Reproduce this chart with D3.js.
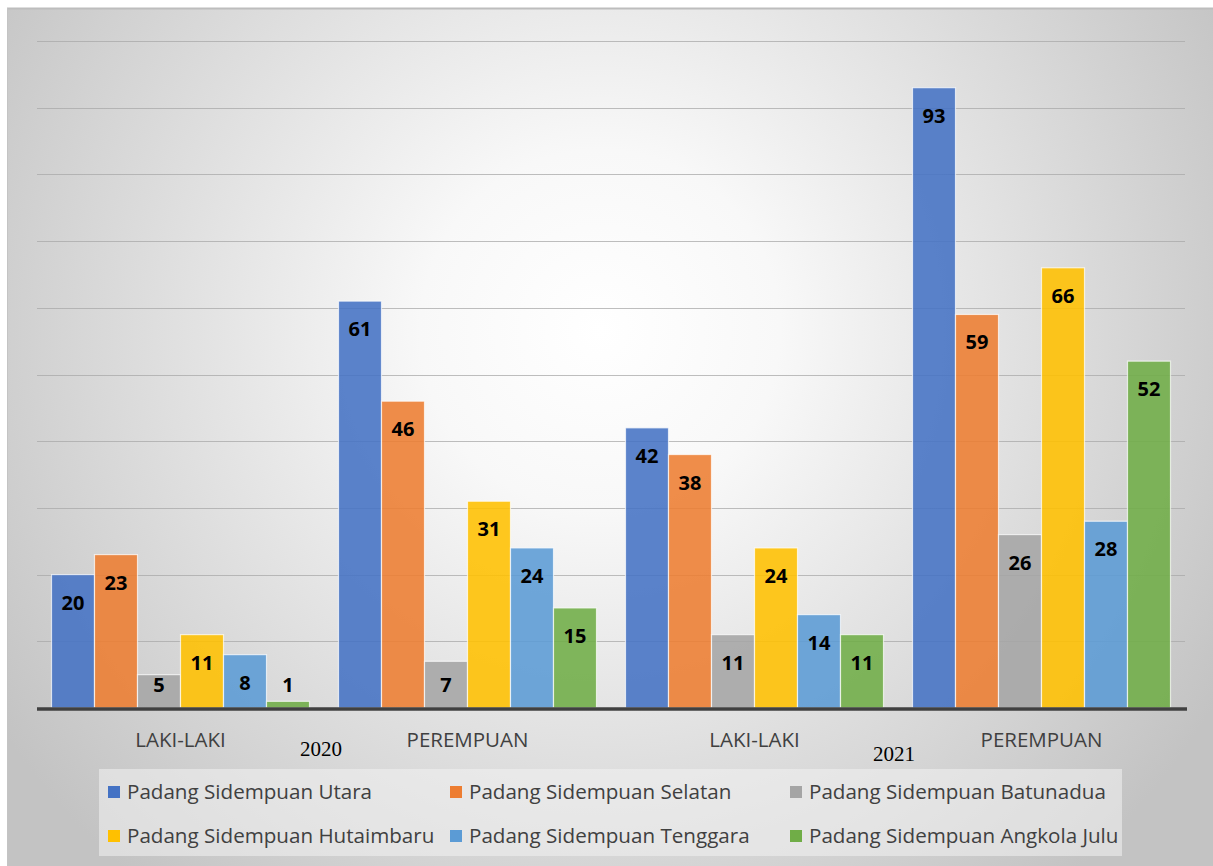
<!DOCTYPE html>
<html>
<head>
  <meta charset="utf-8" />
  <title>Padang Sidempuan 2020-2021</title>
  <style>
    body { margin: 0; background: #fff; }
    svg { display: block; }
    .lbl { font-family: "Open Sans", sans-serif; font-weight: bold; font-size: 20px; fill: #000; }
    .cat { font-family: "Open Sans", sans-serif; font-size: 20.5px; fill: #404040; }
    .year { font-family: "Liberation Serif", serif; font-size: 21px; fill: #000; }
    .leg { font-family: "Open Sans", sans-serif; font-size: 20.6px; fill: #404040; }
  </style>
</head>
<body>
  <svg id="svg"></svg>
  <script src="https://d3js.org/d3.v7.min.js"></script>
  <script>
    const width = 1213
    const height = 866

    const categories = ['LAKI-LAKI', 'PEREMPUAN', 'LAKI-LAKI', 'PEREMPUAN']
    const years = ['2020', '2021']
    const series = [
      'Padang Sidempuan Utara',
      'Padang Sidempuan Selatan',
      'Padang Sidempuan Batunadua',
      'Padang Sidempuan Hutaimbaru',
      'Padang Sidempuan Tenggara',
      'Padang Sidempuan Angkola Julu'
    ]
    const utara = [20, 61, 42, 93]
    const selatan = [23, 46, 38, 59]
    const batunadua = [5, 7, 11, 26]
    const hutaimbaru = [11, 31, 24, 66]
    const tenggara = [8, 24, 14, 28]
    const angkolaJulu = [1, 15, 11, 52]
    const yTicks = [0, 10, 20, 30, 40, 50, 60, 70, 80, 90, 100]

    const values = [utara, selatan, batunadua, hutaimbaru, tenggara, angkolaJulu]
    const colors = ['#4472c4', '#ed7d31', '#a5a5a5', '#ffc000', '#5b9bd5', '#70ad47']

    const svg = d3.select('#svg').attr('width', width).attr('height', height)

    // background panel with radial shading
    const defs = svg.append('defs')
    const grad = defs.append('radialGradient')
      .attr('id', 'bg')
      .attr('gradientUnits', 'userSpaceOnUse')
      .attr('cx', 600).attr('cy', 330).attr('r', 720)
    grad.append('stop').attr('offset', '0%').attr('stop-color', '#ffffff')
    grad.append('stop').attr('offset', '25%').attr('stop-color', '#f8f8f8')
    grad.append('stop').attr('offset', '100%').attr('stop-color', '#c3c3c3')

    svg.append('rect')
      .attr('x', 7).attr('y', 8)
      .attr('width', width - 7).attr('height', height - 8)
      .attr('fill', 'url(#bg)')
    svg.append('line')
      .attr('x1', 7).attr('x2', width).attr('y1', 8.5).attr('y2', 8.5)
      .attr('stroke', '#bdbdbd').attr('stroke-width', 2)
    svg.append('line')
      .attr('x1', 7.5).attr('x2', 7.5).attr('y1', 8).attr('y2', height)
      .attr('stroke', '#c4c4c4').attr('stroke-width', 1)

    const plot = { left: 37, right: 1185, top: 41, bottom: 708 }

    const x0 = d3.scaleBand()
      .domain(d3.range(categories.length))
      .range([plot.left, plot.right])

    const x1 = d3.scaleBand()
      .domain(d3.range(series.length))
      .range([14.5, x0.bandwidth() - 14.5])

    const y = d3.scaleLinear()
      .domain([0, 100])
      .range([plot.bottom, plot.top])

    // gridlines
    svg.append('g')
      .selectAll('line')
      .data(yTicks.slice(1))
      .join('line')
      .attr('x1', plot.left).attr('x2', plot.right)
      .attr('y1', d => Math.round(y(d)) + 0.5)
      .attr('y2', d => Math.round(y(d)) + 0.5)
      .attr('stroke', '#a8a8a8')
      .attr('stroke-opacity', 0.75)

    // bars
    const groups = svg.append('g')
      .selectAll('g')
      .data(categories.map((c, i) => i))
      .join('g')
      .attr('transform', i => `translate(${x0(i)},0)`)

    groups.selectAll('rect')
      .data(i => values.map((v, s) => ({ s, v: v[i] })))
      .join('rect')
      .attr('x', d => x1(d.s))
      .attr('width', x1.bandwidth())
      .attr('y', d => y(d.v))
      .attr('height', d => y(0) - y(d.v))
      .attr('fill', d => colors[d.s])
      .attr('fill-opacity', 0.88)
      .attr('stroke', '#fff')
      .attr('stroke-opacity', 0.7)
      .attr('stroke-width', 1.2)

    groups.selectAll('text')
      .data(i => values.map((v, s) => ({ s, v: v[i] })))
      .join('text')
      .attr('class', 'lbl')
      .attr('x', d => x1(d.s) + x1.bandwidth() / 2)
      .attr('y', d => Math.min(y(d.v) + 28, 685))
      .attr('dy', '0.35em')
      .attr('text-anchor', 'middle')
      .text(d => d.v)

    // baseline
    svg.append('line')
      .attr('x1', plot.left).attr('x2', plot.right + 2)
      .attr('y1', y(0) + 1).attr('y2', y(0) + 1)
      .attr('stroke', '#404040').attr('stroke-width', 3.5)

    // category labels
    svg.append('g')
      .selectAll('text')
      .data(categories)
      .join('text')
      .attr('class', 'cat')
      .attr('x', (d, i) => x0(i) + x0.bandwidth() / 2)
      .attr('y', 740)
      .attr('dy', '0.35em')
      .attr('text-anchor', 'middle')
      .text(d => d)

    // year labels
    svg.append('g')
      .selectAll('text')
      .data(years)
      .join('text')
      .attr('class', 'year')
      .attr('x', (d, i) => [321, 894][i])
      .attr('y', (d, i) => [749, 754][i])
      .attr('dy', '0.35em')
      .attr('text-anchor', 'middle')
      .text(d => d)

    // legend
    const legend = svg.append('g')
    legend.append('rect')
      .attr('x', 99).attr('y', 769)
      .attr('width', 1023).attr('height', 87)
      .attr('fill', '#f2f2f2').attr('fill-opacity', 0.55)

    const colX = [108, 450, 790]
    const rowY = [792, 836]
    const items = legend.selectAll('g')
      .data(series)
      .join('g')
      .attr('transform', (d, i) => `translate(${colX[i % 3]},${rowY[Math.floor(i / 3)]})`)
    items.append('rect')
      .attr('x', 0).attr('y', -6)
      .attr('width', 12).attr('height', 12)
      .attr('fill', (d, i) => colors[i])
    items.append('text')
      .attr('class', 'leg')
      .attr('x', 19)
      .attr('dy', '0.35em')
      .text(d => d)
  </script>
</body>
</html>
